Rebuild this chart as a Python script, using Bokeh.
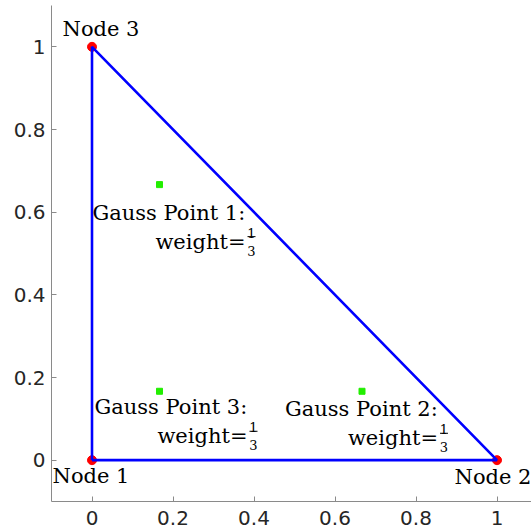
from bokeh.plotting import figure
from bokeh.models import ColumnDataSource, Range1d, FixedTicker, CustomJSTickFormatter
from bokeh.core.properties import value
from bokeh.embed import file_html
from bokeh.resources import INLINE

# ---- data ----
node_x = [0, 1, 0]
node_y = [0, 0, 1]
node_labels = ["Node 1", "Node 2", "Node 3"]
gauss_x = [1/6, 2/3, 1/6]
gauss_y = [2/3, 1/6, 1/6]
gauss_labels = ["Gauss Point 1:", "Gauss Point 2:", "Gauss Point 3:"]
weight_text = ["weight=", "weight=", "weight="]
weight_num = ["1", "1", "1"]
weight_den = ["3", "3", "3"]
ticks = [0, 0.2, 0.4, 0.6, 0.8, 1]

# ---- layout ----
W, H = 531, 531
ML, MR, MT, MB = 51, 0, 5, 30
FW, FH = W - ML - MR, H - MT - MB
X0, Y0, Y1 = -0.1, -0.1, 1.1
PXX = 405.0                      # pixels per x unit
X1 = X0 + FW / PXX
PXY = FH / (Y1 - Y0)             # pixels per y unit
SH = -7                          # vertical text shift

SERIF = value("DejaVu Serif")

p = figure(width=W, height=H, x_range=Range1d(X0, X1), y_range=Range1d(Y0, Y1),
           output_backend="svg", toolbar_location=None,
           min_border_left=ML, min_border_right=MR, min_border_top=MT, min_border_bottom=MB)
p.outline_line_color = None
p.grid.visible = False
p.background_fill_color = "white"
p.border_fill_color = "white"

for ax in (p.xaxis[0], p.yaxis[0]):
    ax.ticker = FixedTicker(ticks=ticks)
    ax.formatter = CustomJSTickFormatter(code="return String(Math.round(tick*10)/10);")
    ax.major_tick_in = 5
    ax.major_tick_out = 0
    ax.minor_tick_line_color = None
    ax.axis_line_color = "#8a8a8a"
    ax.major_tick_line_color = "#8a8a8a"
    ax.major_label_text_font = "DejaVu Sans"
    ax.major_label_text_font_size = "20px"
    ax.major_label_text_color = "#262626"
p.yaxis[0].major_label_standoff = 6
p.xaxis[0].major_label_standoff = 9

# nodes and triangle
p.scatter(node_x, node_y, size=9, color="#ff0000")
p.line(node_x + [node_x[0]], node_y + [node_y[0]], line_color="#0000ff", line_width=2.6)

# gauss points
p.scatter(gauss_x, gauss_y, marker="square", size=6, color="#22ee00")

# node labels
node_src = ColumnDataSource(dict(x=node_x, y=node_y, t=node_labels,
                                 dx=[-1, -4, 9], dy=[23 + SH, 24 + SH, -11 + SH]))
p.text(x="x", y="y", text="t", x_offset="dx", y_offset="dy", source=node_src,
       text_font=SERIF, text_font_size="21px", text_align="center",
       text_baseline="alphabetic", text_color="black")

# gauss labels
dxl = [-67, -77, -65]
dyl = [35 + SH, 25 + SH, 23 + SH]
FRAC = 159
LG = 29
g_src = ColumnDataSource(dict(x=gauss_x, y=gauss_y, t=gauss_labels, w=weight_text,
                              n=weight_num, d=weight_den,
                              dx=dxl, dy=dyl,
                              wdx=[v + FRAC - 6 for v in dxl],
                              wdy=[v + LG for v in dyl],
                              fdx=[v + FRAC for v in dxl],
                              ndy=[v + LG - 9 for v in dyl],
                              ddy=[v + LG + 9 for v in dyl]))
p.text(x="x", y="y", text="t", x_offset="dx", y_offset="dy", source=g_src,
       text_font=SERIF, text_font_size="21px", text_align="left",
       text_baseline="alphabetic", text_color="black")
p.text(x="x", y="y", text="w", x_offset="wdx", y_offset="wdy", source=g_src,
       text_font=SERIF, text_font_size="21px", text_align="right",
       text_baseline="alphabetic", text_color="black")
p.text(x="x", y="y", text="n", x_offset="fdx", y_offset="ndy", source=g_src,
       text_font=SERIF, text_font_size="13px", text_align="center",
       text_baseline="alphabetic", text_color="black")
p.text(x="x", y="y", text="d", x_offset="fdx", y_offset="ddy", source=g_src,
       text_font=SERIF, text_font_size="13px", text_align="center",
       text_baseline="alphabetic", text_color="black")
# fraction bars
bx0 = [gx + (dx + FRAC - 4) / PXX for gx, dx in zip(gauss_x, dxl)]
bx1 = [gx + (dx + FRAC + 4) / PXX for gx, dx in zip(gauss_x, dxl)]
by = [gy - (dy + LG - 5) / PXY for gy, dy in zip(gauss_y, dyl)]
p.segment(x0=bx0, y0=by, x1=bx1, y1=by, line_color="black", line_width=1)

open("out.html", "w").write(file_html(p, INLINE))
